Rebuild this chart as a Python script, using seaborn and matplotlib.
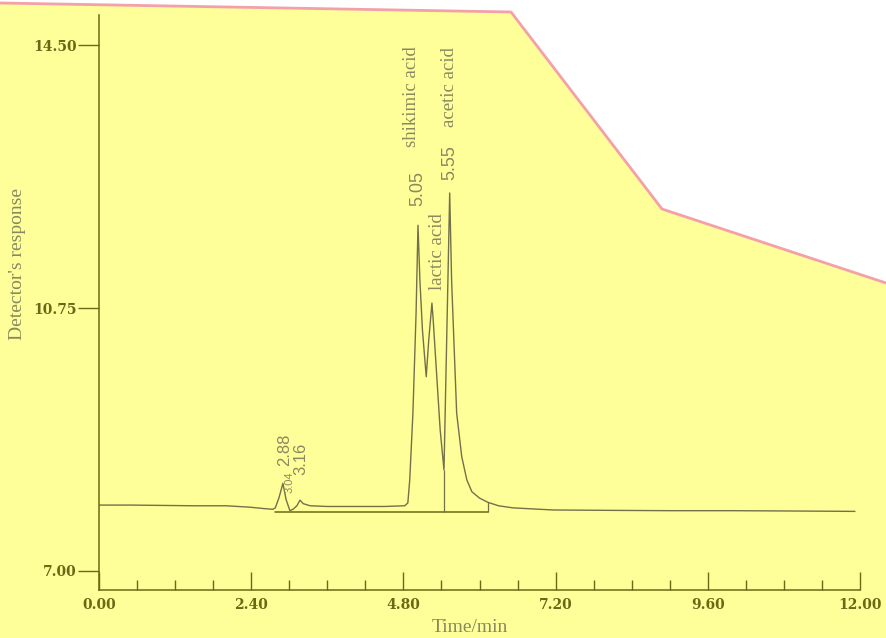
import matplotlib
matplotlib.use("Agg")
import numpy as np
import pandas as pd
import matplotlib.pyplot as plt
import seaborn as sns
from matplotlib.patches import Polygon
from matplotlib.lines import Line2D

# chromatogram trace (time / min, detector response)
time_min = [0.00, 0.50, 1.00, 1.50, 2.00, 2.38, 2.60, 2.74, 2.78, 2.84, 2.90, 2.95,
            3.01, 3.06, 3.12, 3.17, 3.22, 3.33, 3.60, 4.00, 4.50, 4.82, 4.87, 4.90,
            4.95, 5.00, 5.03, 5.06, 5.10, 5.16, 5.20, 5.25, 5.27, 5.33, 5.38, 5.44,
            5.47, 5.50, 5.53, 5.56, 5.60, 5.64, 5.72, 5.80, 5.88, 6.00, 6.13, 6.30,
            6.53, 7.16, 8.00, 9.00, 10.00, 11.00, 11.92]
response = [7.94, 7.94, 7.935, 7.93, 7.93, 7.91, 7.89, 7.88, 7.90, 8.05, 8.25, 8.02,
            7.86, 7.88, 7.93, 8.01, 7.96, 7.93, 7.92, 7.92, 7.92, 7.93, 7.97, 8.30,
            9.25, 10.68, 11.93, 11.15, 10.44, 9.77, 10.30, 10.82, 10.58, 9.72, 9.01, 8.44,
            9.75, 11.06, 12.39, 11.15, 10.19, 9.25, 8.63, 8.30, 8.13, 8.04, 7.98, 7.93,
            7.90, 7.87, 7.865, 7.86, 7.86, 7.855, 7.85]

# integration baseline and drop lines
base_start, base_end, base_level = 2.78, 6.13, 7.84
drop_times = [5.44, 6.13]
drop_tops = [8.44, 7.98]

# peak annotations: (text, time, response, size)
peak_labels = [("2.88", 2.93, 8.73, 12), ("3.04", 3.01, 8.27, 8), ("3.16", 3.18, 8.60, 12),
               ("5.05", 5.03, 12.46, 13), ("5.55", 5.53, 12.82, 13)]
name_labels = [("shikimic acid", 4.92, 13.76), ("lactic acid", 5.33, 11.55),
               ("acetic acid", 5.53, 13.90)]

x_major = [0.00, 2.40, 4.80, 7.20, 9.60, 12.00]
y_major = [7.00, 10.75, 14.50]

ink = "#6b6816"
trace_col = "#73704a"
text_col = "#8a8860"

sns.set_style("ticks")
fig = plt.figure(figsize=(8.86, 6.38), dpi=100)
fig.patch.set_facecolor("white")

# yellow scanned page with pink edge
W, H = 886.0, 638.0
edge = [(0, 3), (511, 12), (662, 209), (886, 283)]
poly = [(0, 0)] + [(x / W, 1 - y / H) for x, y in edge] + [(1, 0)]
fig.patches.append(Polygon(poly, closed=True, transform=fig.transFigure,
                           facecolor="#ffff99", edgecolor="none", zorder=-10))
fig.lines.append(Line2D([x / W for x, y in edge], [1 - y / H for x, y in edge],
                        transform=fig.transFigure, color="#f4a0a8", lw=2))

ax = fig.add_axes([99 / W, 1 - 590 / H, (860 - 99) / W, (590 - 15) / H])
ax.set_facecolor("none")

df = pd.DataFrame({"t": time_min, "r": response})
sns.lineplot(data=df, x="t", y="r", ax=ax, color=trace_col, lw=1.0,
             estimator=None, sort=False)
ax.plot([base_start, base_end], [base_level, base_level], color=ink, lw=1.1)
ax.vlines(drop_times, base_level, drop_tops, color=trace_col, lw=0.9)

for txt, t, r, fs in peak_labels:
    ax.text(t, r, txt, rotation=90, ha="center", va="center", fontsize=fs,
            color=text_col, family="Liberation Sans")
for txt, t, r in name_labels:
    ax.text(t, r, txt, rotation=90, ha="center", va="center", fontsize=13.5,
            color=text_col, family="Liberation Serif")

ax.set_xlim(0, 12)
ax.set_ylim(6.729, 14.928)
ax.set_xticks(x_major)
ax.set_xticks(np.arange(0, 12.01, 0.6), minor=True)
ax.set_yticks(y_major)
ax.set_xticklabels([f"{v:.2f}" for v in x_major])
ax.set_yticklabels([f"{v:.2f}" for v in y_major])
ax.tick_params(axis="x", which="major", direction="in", length=13, width=1,
               color=ink, pad=6)
ax.tick_params(axis="x", which="minor", direction="in", length=7, width=1, color=ink)
ax.tick_params(axis="y", direction="out", length=15, width=1, color=ink, pad=1)
for lab in ax.get_xticklabels() + ax.get_yticklabels():
    lab.set_family("DejaVu Serif")
    lab.set_fontweight("bold")
    lab.set_fontsize(10)
    lab.set_color(ink)

sns.despine(ax=ax)
for s in ["left", "bottom"]:
    ax.spines[s].set_color(ink)
    ax.spines[s].set_linewidth(1.1)

ax.set_xlabel("Time/min", family="Liberation Serif", fontsize=14, color=text_col)
ax.set_ylabel("Detector's response", family="Liberation Serif", fontsize=14,
              color=text_col)
ax.xaxis.set_label_coords((470 - 99) / 761, -(628 - 590) / 575)
ax.yaxis.set_label_coords((18 - 99) / 761, (590 - 264) / 575)
ax.xaxis.label.set_va("center")
ax.yaxis.label.set_va("center")

fig.savefig("out.png", dpi=100)
